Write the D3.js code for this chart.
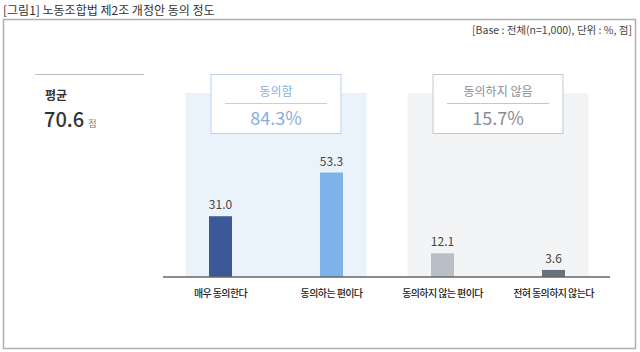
<!DOCTYPE html>
<html>
<head>
<meta charset="utf-8">
<script src="https://cdn.jsdelivr.net/npm/d3@7"></script>
<style>
  body { margin: 0; background: #fff; }
  svg { display: block; font-family: "Noto Sans CJK KR", "Noto Sans", sans-serif; }
</style>
</head>
<body>
<svg id="chart" width="640" height="352"></svg>
<script>
const categories = ["매우 동의한다", "동의하는 편이다", "동의하지 않는 편이다", "전혀 동의하지 않는다"];
const values = [31.0, 53.3, 12.1, 3.6];
const barColors = ["#3b5998", "#7db3e8", "#babfc7", "#68717e"];
const groups = [
  { label: "동의함", total: "84.3%", from: 0, to: 1, fill: "#eaf2fc", stroke: "#bcd2ec", text: "#86aedb" },
  { label: "동의하지 않음", total: "15.7%", from: 2, to: 3, fill: "#f3f4f6", stroke: "#c4c7cc", text: "#8a8d92" }
];
const meanValue = "70.6";

const svg = d3.select("#chart");

// title + frame
svg.append("text")
  .attr("x", 3).attr("y", 15)
  .style("font-size", "12px").style("fill", "#333")
  .text("[그림1] 노동조합법 제2조 개정안 동의 정도");

svg.append("rect")
  .attr("x", 3.5).attr("y", 19.5)
  .attr("width", 632).attr("height", 329)
  .attr("fill", "none").attr("stroke", "#b0b0b0").attr("stroke-width", 1.5);

svg.append("text")
  .attr("x", 632).attr("y", 34)
  .attr("text-anchor", "end")
  .style("font-size", "10.5px").style("fill", "#444")
  .text("[Base : 전체(n=1,000), 단위 : %, 점]");

// mean block
svg.append("line")
  .attr("x1", 35).attr("x2", 144).attr("y1", 74.5).attr("y2", 74.5)
  .attr("stroke", "#bbb");
svg.append("text")
  .attr("x", 45).attr("y", 100)
  .style("font-size", "12px").style("font-weight", "bold").style("fill", "#333")
  .text("평균");
const mean = svg.append("text")
  .attr("x", 44).attr("y", 127)
  .style("fill", "#333");
mean.append("tspan").style("font-size", "20px").style("font-weight", 500).text(meanValue);
mean.append("tspan").attr("dx", 4).style("font-size", "9px").style("fill", "#777").text("점");

// scales
const baseY = 277;
const x = d3.scaleBand()
  .domain(categories)
  .range([165, 609]);
const y = d3.scaleLinear()
  .domain([0, 60])
  .range([baseY, baseY - 60 * 1.96]);
const barW = 23;

// group panels + label boxes
groups.forEach(g => {
  const x0 = x(categories[g.from]) + x.bandwidth() / 2 - 35;
  const x1 = x(categories[g.to]) + x.bandwidth() / 2 + 35;
  svg.append("rect")
    .attr("x", x0).attr("y", 93)
    .attr("width", x1 - x0).attr("height", baseY - 93)
    .attr("fill", g.fill);
  const cx = (x0 + x1) / 2;
  svg.append("rect")
    .attr("x", cx - 65).attr("y", 74.5)
    .attr("width", 130).attr("height", 59)
    .attr("fill", "#fff").attr("stroke", g.stroke);
  svg.append("line")
    .attr("x1", cx - 51).attr("x2", cx + 51)
    .attr("y1", 103.5).attr("y2", 103.5)
    .attr("stroke", g.stroke);
  svg.append("text")
    .attr("x", cx).attr("y", 96)
    .attr("text-anchor", "middle")
    .style("font-size", "12px").style("fill", g.text)
    .text(g.label);
  svg.append("text")
    .attr("x", cx).attr("y", 125)
    .attr("text-anchor", "middle")
    .style("font-size", "18px").style("fill", g.text)
    .text(g.total);
});

// bars
const cx = c => x(c) + x.bandwidth() / 2;
svg.selectAll("rect.bar")
  .data(values)
  .join("rect")
  .attr("class", "bar")
  .attr("x", (d, i) => cx(categories[i]) - barW / 2)
  .attr("y", d => y(d))
  .attr("width", barW)
  .attr("height", d => baseY - y(d))
  .attr("fill", (d, i) => barColors[i]);

svg.selectAll("text.val")
  .data(values)
  .join("text")
  .attr("class", "val")
  .attr("x", (d, i) => cx(categories[i]))
  .attr("y", d => y(d) - 7)
  .attr("text-anchor", "middle")
  .style("font-size", "12px").style("fill", "#444")
  .text(d => d3.format(".1f")(d));

// baseline + category axis
svg.append("line")
  .attr("x1", 163).attr("x2", 610)
  .attr("y1", baseY).attr("y2", baseY)
  .attr("stroke", "#666").attr("stroke-width", 1.5);

const xAxis = d3.axisBottom(x).tickSize(0).tickPadding(13);
const axisG = svg.append("g")
  .attr("transform", `translate(0,${baseY})`)
  .call(xAxis);
axisG.select(".domain").remove();
axisG.selectAll("text")
  .style("font-size", "10px")
  .style("font-weight", 500)
  .style("font-family", "'Noto Sans CJK KR', sans-serif")
  .style("fill", "#222")
  .style("letter-spacing", "-0.6px");
</script>
</body>
</html>
